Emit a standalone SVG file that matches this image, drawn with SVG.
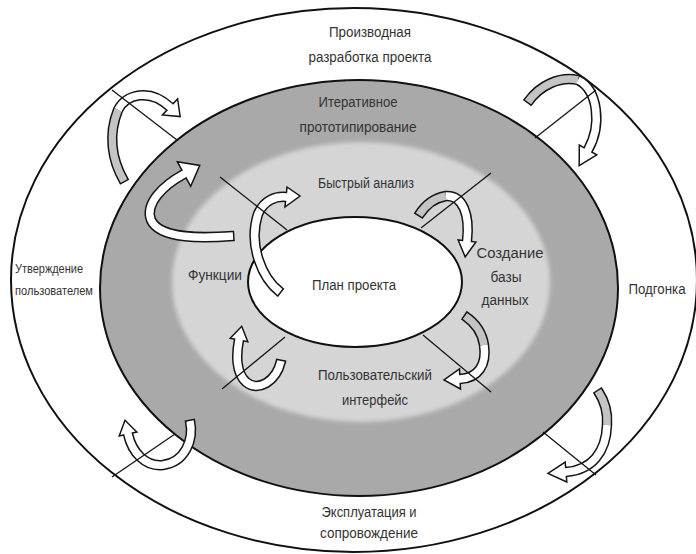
<svg xmlns="http://www.w3.org/2000/svg" width="696" height="554" viewBox="0 0 696 554">
<style>
.ring{stroke:#111;stroke-width:2}
.ol{fill:none;stroke:#151515;stroke-width:10.5}
.wf{fill:none;stroke:#fff;stroke-width:7.5}
.gf{fill:none;stroke:#c4c4c4;stroke-width:7.5}
.hd{fill:#fff;stroke:#151515;stroke-width:1.5;stroke-linejoin:miter}
.dv{stroke:#151515;stroke-width:1.3;fill:none}
.lbl{font-family:"Liberation Sans",Arial,sans-serif;font-size:14px;fill:#333;text-anchor:middle}
.lbs{font-family:"Liberation Sans",Arial,sans-serif;font-size:12px;fill:#333}
</style>
<defs>
  <filter id="soft" x="-5%" y="-5%" width="110%" height="110%">
    <feGaussianBlur stdDeviation="2"/>
  </filter>
</defs>
<rect width="696" height="554" fill="#fff"/>

<g id="ring-outer">
  <ellipse class="ring" cx="354" cy="280" rx="343" ry="272" fill="#fff"/>
  <text class="lbl" x="370" y="37" textLength="82" lengthAdjust="spacingAndGlyphs">Производная</text>
  <text class="lbl" x="370" y="62" textLength="123" lengthAdjust="spacingAndGlyphs">разработка проекта</text>
  <text class="lbs" x="15" y="273" textLength="68" lengthAdjust="spacingAndGlyphs">Утверждение</text>
  <text class="lbs" x="15" y="295" textLength="78" lengthAdjust="spacingAndGlyphs">пользователем</text>
  <text class="lbl" x="657" y="294" textLength="57" lengthAdjust="spacingAndGlyphs">Подгонка</text>
  <text class="lbl" x="369" y="517" textLength="95" lengthAdjust="spacingAndGlyphs">Эксплуатация и</text>
  <text class="lbl" x="369" y="538" textLength="98" lengthAdjust="spacingAndGlyphs">сопровождение</text>
</g>

<g id="ring-iterative">
  <ellipse class="ring" cx="359" cy="288" rx="259" ry="208" fill="#a9a9a9" stroke-width="2.2"/>
  <text class="lbl" x="358" y="107" textLength="79" lengthAdjust="spacingAndGlyphs">Итеративное</text>
  <text class="lbl" x="358" y="132" textLength="117" lengthAdjust="spacingAndGlyphs">прототипирование</text>
</g>

<g id="ring-rapid">
  <ellipse cx="361" cy="282" rx="189" ry="140" fill="#d5d5d6" filter="url(#soft)"/>
  <text class="lbl" x="366" y="188" textLength="96" lengthAdjust="spacingAndGlyphs">Быстрый анализ</text>
  <text class="lbl" x="215" y="280" textLength="54" lengthAdjust="spacingAndGlyphs">Функции</text>
  <text class="lbl" x="510" y="258" textLength="67" lengthAdjust="spacingAndGlyphs">Создание</text>
  <text class="lbl" x="506" y="282" textLength="31" lengthAdjust="spacingAndGlyphs">базы</text>
  <text class="lbl" x="505" y="305" textLength="47" lengthAdjust="spacingAndGlyphs">данных</text>
  <text class="lbl" x="375" y="380" textLength="114" lengthAdjust="spacingAndGlyphs">Пользовательский</text>
  <text class="lbl" x="375" y="405" textLength="66" lengthAdjust="spacingAndGlyphs">интерфейс</text>
</g>

<g id="core">
  <ellipse class="ring" cx="355" cy="282" rx="107" ry="65" fill="#fff"/>
  <text class="lbl" x="354" y="290" textLength="84" lengthAdjust="spacingAndGlyphs">План проекта</text>
</g>

<g id="arrows">
  <g id="arrow-a">
    <path class="ol" d="M124.7,182.3 L124,181 C112,160 108,135 118,110 C126,94 150,88 170,107"/>
    <polygon class="hd" points="177.6,99 180.2,116.6 162.4,115"/>
    <path class="gf" d="M124,181 C112,160 108,135 118,110"/>
    <path class="wf" d="M118,110 C126,94 150,88 170,107 l1.1,1"/>
  </g>
  <g id="arrow-b">
    <path class="ol" stroke-width="13" d="M234.5,235.9 L233,236 C205,238 160,240 151,220 C145,204 162,186 184,174"/>
    <polygon class="hd" points="190.7,186.3 199.8,165.4 177.3,161.7"/>
    <path class="wf" stroke-width="10" d="M233,236 C205,238 160,240 151,220 C145,204 162,186 184,174 l1.3,-0.7"/>
  </g>
  <g id="arrow-c">
    <path class="ol" d="M281.2,292.9 L280,292 C262,278 248,245 258,214 C264,200 276,196 286,197"/>
    <polygon class="hd" points="287,187 300,196 285,207"/>
    <path class="wf" d="M280,292 C262,278 248,245 258,214 C264,200 276,196 286,197 l1.5,0"/>
  </g>
  <g id="arrow-d">
    <path class="ol" d="M418.2,216.3 L419,215 C426,204 434,198 446,196 C463,195 470,215 467,241"/>
    <polygon class="hd" points="475.9,242 465.2,256.9 458.1,240"/>
    <path class="gf" d="M419,215 C426,204 434,198 446,196"/>
    <path class="wf" d="M446,196 C463,195 470,215 467,241 l-0.2,1.5"/>
  </g>
  <g id="arrow-e">
    <path class="ol" d="M527.1,103.2 L528,102 C540,85 560,76 578,80 C598,90 602,125 588,150"/>
    <polygon class="hd" points="596.7,154.9 579.2,165.7 579.3,145.1"/>
    <path class="gf" d="M528,102 C540,85 560,76 578,80"/>
    <path class="wf" d="M578,80 C598,90 602,125 588,150 l-0.7,1.3"/>
  </g>
  <g id="arrow-f">
    <path class="ol" d="M463.8,315.2 L465,316 C474,322 482,332 484,345 C487,365 478,378 460,379"/>
    <polygon class="hd" points="460.5,389 444,380 459.5,369"/>
    <path class="gf" d="M465,316 C474,322 482,332 484,345"/>
    <path class="wf" d="M484,345 C487,365 478,378 460,379 l-1.5,0.1"/>
  </g>
  <g id="arrow-g">
    <path class="ol" d="M281.3,359.5 L281,361 C276,382 258,392 246,382 C236,373 236,355 239,340"/>
    <polygon class="hd" points="247.8,341.8 241.7,326.3 230.2,338.2"/>
    <path class="wf" d="M281,361 C276,382 258,392 246,382 C236,373 236,355 239,340 l0.3,-1.5"/>
  </g>
  <g id="arrow-h">
    <path class="ol" d="M189.7,419.5 L190,421 C194,440 185,462 163,465 C145,467 132,452 128,434"/>
    <polygon class="hd" points="136.8,432 125,420.3 119.2,436"/>
    <path class="wf" d="M190,421 C194,440 185,462 163,465 C145,467 132,452 128,434 l-0.3,-1.5"/>
  </g>
  <g id="arrow-i">
    <path class="ol" d="M597.2,389.8 L598,391 C604,400 608,412 607,425 C606,452 592,470 566,472"/>
    <polygon class="hd" points="566.8,482 548,473.4 565.2,462"/>
    <path class="gf" d="M598,391 C604,400 608,412 607,425"/>
    <path class="wf" d="M607,425 C606,452 592,470 566,472 l-1.5,0.1"/>
  </g>
</g>

<g id="connectors">
  <line class="dv" x1="112" y1="90" x2="177" y2="140"/>
  <line class="dv" x1="220" y1="177" x2="287" y2="230"/>
  <line class="dv" x1="596" y1="90" x2="535" y2="138"/>
  <line class="dv" x1="491" y1="173" x2="421" y2="228"/>
  <line class="dv" x1="423" y1="335" x2="491" y2="392"/>
  <line class="dv" x1="543" y1="432" x2="596" y2="475"/>
  <line class="dv" x1="285" y1="337" x2="222" y2="389"/>
  <line class="dv" x1="175" y1="434" x2="112" y2="477"/>
</g>
</svg>
